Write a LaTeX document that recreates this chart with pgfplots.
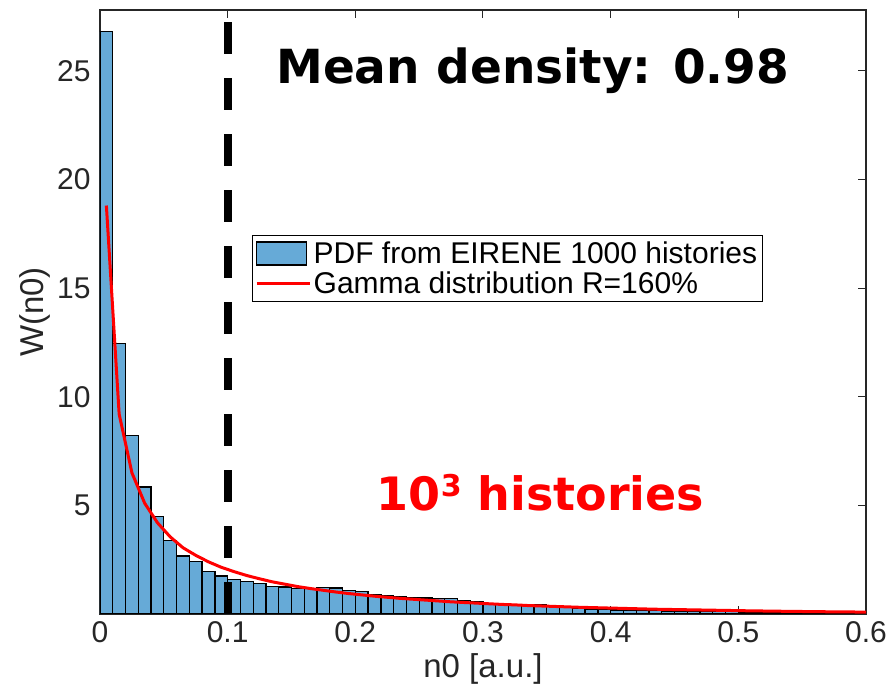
\documentclass[border=0pt]{standalone}
\usepackage{pgfplots}
\pgfplotsset{compat=1.18}
\usepackage{fontspec}
\setmainfont{Liberation Sans}
\newfontfamily\annotfont{DejaVu Sans}

\definecolor{barblue}{rgb}{0.40,0.668,0.845}
\definecolor{axgray}{rgb}{0.15,0.15,0.15}

\pgfplotsset{
  histlegend/.style={legend image code/.code={%
    \draw[##1, line width=1.3pt] (0pt,-11.5pt) rectangle (50pt,11.5pt);}},
  linelegend/.style={legend image code/.code={%
    \draw[##1] (0pt,0pt) -- (53pt,0pt);}},
}

% Histogram of n0 (left bin edges, bin width 0.01); last row closes the final bin
\pgfplotstableread{
x y
0.00 26.8
0.01 12.45
0.02 8.2
0.03 5.85
0.04 4.5
0.05 3.38
0.06 2.67
0.07 2.41
0.08 1.96
0.09 1.75
0.10 1.59
0.11 1.49
0.12 1.41
0.13 1.25
0.14 1.24
0.15 1.17
0.16 1.18
0.17 1.22
0.18 1.20
0.19 1.09
0.20 1.03
0.21 0.89
0.22 0.84
0.23 0.80
0.24 0.75
0.25 0.74
0.26 0.71
0.27 0.72
0.28 0.63
0.29 0.58
0.30 0.47
0.31 0.49
0.32 0.43
0.33 0.41
0.34 0.43
0.35 0.34
0.36 0.31
0.37 0.25
0.38 0.22
0.39 0.20
0.40 0.18
0.41 0.17
0.42 0.16
0.43 0.15
0.44 0.14
0.45 0.13
0.46 0.13
0.47 0.12
0.48 0.11
0.49 0.10
0.50 0.09
0.51 0.09
0.52 0.08
0.53 0.08
0.54 0.07
0.55 0.07
0.56 0.06
0.57 0.06
0.58 0.05
0.59 0.05
0.60 0.05
}\histtable

% Gamma distribution fit (R = 160%) evaluated at bin centres
\pgfplotstableread{
x y
0.005 18.8
0.015 9.2
0.025 6.5
0.035 5.1
0.045 4.2
0.055 3.55
0.065 3.05
0.075 2.7
0.085 2.4
0.095 2.15
0.105 1.95
0.115 1.77
0.125 1.62
0.135 1.48
0.145 1.37
0.155 1.26
0.165 1.17
0.175 1.09
0.185 1.01
0.195 0.94
0.205 0.88
0.215 0.82
0.225 0.77
0.235 0.72
0.245 0.68
0.255 0.64
0.265 0.60
0.275 0.56
0.285 0.53
0.295 0.50
0.305 0.47
0.315 0.44
0.325 0.42
0.335 0.39
0.345 0.37
0.355 0.35
0.365 0.33
0.375 0.31
0.385 0.295
0.395 0.28
0.405 0.265
0.415 0.25
0.425 0.235
0.435 0.22
0.445 0.21
0.455 0.20
0.465 0.19
0.475 0.18
0.485 0.17
0.495 0.16
0.505 0.15
0.515 0.14
0.525 0.135
0.535 0.125
0.545 0.12
0.555 0.11
0.565 0.105
0.575 0.10
0.585 0.095
0.595 0.09
0.605 0.085
}\gammatable

\begin{document}
\begin{tikzpicture}
\begin{axis}[
  scale only axis,
  width=766pt, height=604pt,
  xmin=0, xmax=0.6, ymin=0, ymax=27.8,
  xtick={0,0.1,0.2,0.3,0.4,0.5,0.6},
  xticklabels={0,0.1,0.2,0.3,0.4,0.5,0.6},
  ytick={5,10,15,20,25},
  tick align=inside,
  major tick length=8pt,
  tick style={axgray, line width=1pt},
  axis line style={axgray, line width=1.3pt},
  /pgf/number format/assume math mode=true,
  ticklabel style={font=\fontsize{30}{36}\selectfont, text=axgray},
  xticklabel style={yshift=-4pt},
  yticklabel style={xshift=-6pt},
  xlabel={n0 [a.u.]},
  ylabel={W(n0)},
  xlabel style={yshift=-4pt},
  label style={font=\fontsize{33}{40}\selectfont, text=axgray},
  legend style={
    at={(0.198,0.6275)}, anchor=north west,
    draw=black, line width=1pt,
    font=\fontsize{30}{35}\selectfont,
    inner xsep=3pt, inner ysep=4pt,
    row sep=2pt,
    nodes={inner sep=2.5pt},
  },
  legend cell align=left,
]
\addplot[ybar interval, fill=barblue, draw=black, line width=1.3pt, histlegend]
  table[x=x, y=y] {\histtable};
\addlegendentry{PDF from EIRENE 1000 histories}

\addplot[red, line width=3pt, no markers, linelegend]
  table[x=x, y=y] {\gammatable};
\addlegendentry{Gamma distribution R=160\%}

% mean density marker
\addplot[black, line width=8pt, dash pattern=on 32pt off 24pt, forget plot]
  coordinates {(0.1,0) (0.1,27.8)};

\node[font=\annotfont\bfseries\fontsize{47}{50}\selectfont, text=black]
  at (axis cs:0.339,25.0) {Mean density: 0.98};
\node[font=\annotfont\bfseries\fontsize{46}{50}\selectfont, text=red]
  at (axis cs:0.345,5.59)
  {10\raisebox{14pt}{\fontsize{30}{30}\selectfont 3} histories};

\coordinate (SW) at (rel axis cs:0,0);
\end{axis}
\pgfresetboundingbox
\path (SW) ++(-100pt,-81pt) rectangle ++(892pt,695pt);
\end{tikzpicture}
\end{document}
